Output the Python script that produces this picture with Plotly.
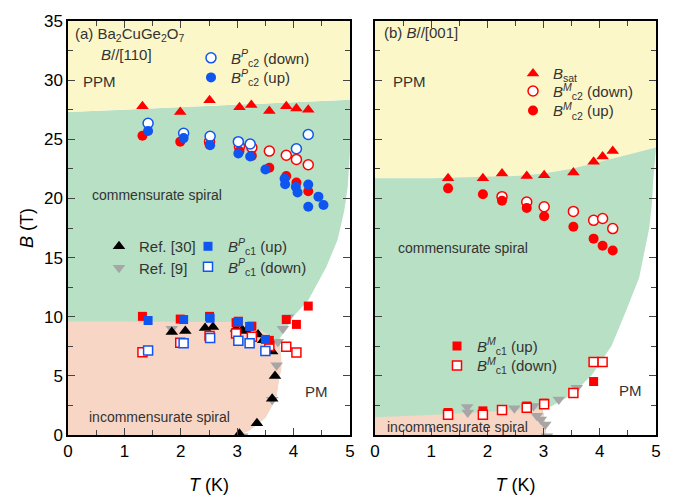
import plotly.graph_objects as go
from plotly.subplots import make_subplots

# ---------------- Panel (a): B // [110] ----------------
a_sat_T = [1.32, 1.99, 2.51, 3.04, 3.25, 3.57, 3.87, 4.05, 4.26]
a_sat_B = [27.8, 27.3, 28.3, 27.7, 27.9, 27.4, 27.8, 27.6, 27.5]

a_c2M_up_T = [1.32, 1.99, 2.51, 3.04, 3.26, 3.57, 3.87, 4.05, 4.26]
a_c2M_up_B = [25.3, 24.8, 24.55, 24.0, 23.6, 22.6, 21.9, 21.35, 20.6]
a_c2M_down_T = [2.51, 3.04, 3.26, 3.57, 3.87, 4.05, 4.26]
a_c2M_down_B = [24.8, 24.4, 24.3, 24.0, 23.65, 23.3, 22.85]

a_c2P_down_T = [1.42, 2.05, 2.52, 3.02, 3.23, 4.05, 4.26]
a_c2P_down_B = [26.35, 25.5, 25.25, 24.8, 24.6, 24.2, 25.4]
a_c2P_up_T = [1.42, 2.05, 2.52, 3.02, 3.23, 3.5, 3.84, 3.85, 4.04, 4.07, 4.26, 4.44, 4.26, 4.53]
a_c2P_up_B = [25.7, 25.1, 24.5, 23.8, 23.55, 22.45, 21.67, 21.2, 20.98, 20.5, 21.17, 20.15, 19.3, 19.45]

a_c1M_up_T = [1.32, 1.99, 2.51, 2.98, 3.02, 3.26, 3.57, 3.87, 4.05, 4.26]
a_c1M_up_B = [10.03, 9.8, 10.03, 9.5, 9.62, 9.2, 8.0, 9.76, 9.35, 10.9]
a_c1M_down_T = [1.32, 1.99, 2.51, 2.98, 3.26, 3.57, 3.87, 4.05]
a_c1M_down_B = [7.0, 7.8, 8.38, 8.58, 8.3, 7.53, 7.47, 6.97]

a_c1P_up_T = [1.42, 2.05, 2.52, 3.02, 3.22, 3.5]
a_c1P_up_B = [9.68, 9.76, 9.87, 9.57, 9.18, 8.08]
a_c1P_down_T = [1.42, 2.05, 2.52, 3.02, 3.22, 3.5]
a_c1P_down_B = [7.14, 7.75, 8.21, 7.97, 7.75, 7.11]

a_ref30_T = [1.84, 2.08, 2.43, 2.57, 2.98, 3.09, 3.16, 3.37, 3.46, 3.62, 3.67, 3.62, 3.35, 3.04]
a_ref30_B = [8.71, 8.8, 9.04, 9.12, 8.99, 8.9, 8.8, 8.49, 8.0, 7.06, 4.99, 3.06, 0.99, 0.1]
a_ref9_T = [1.84, 3.72, 3.81, 3.9, 3.7, 3.62, 3.09]
a_ref9_B = [8.99, 7.88, 8.99, 9.95, 5.9, 2.98, -0.1]

# phase boundaries (a)
a_top_T = [0, 1, 2, 3, 4, 5]
a_top_B = [27.3, 27.5, 27.7, 27.9, 28.1, 28.35]
a_right_T = [5.0, 5.0, 4.96, 4.9, 4.78, 4.58, 4.26, 3.99, 3.75]
a_right_B = [28.35, 24.0, 21.0, 19.0, 16.5, 14.2, 11.4, 10.0, 8.1]
a_inc_T = [0, 1, 2, 2.6, 2.9, 3.2, 3.45, 3.65, 3.75, 3.78, 3.78, 3.75, 3.69, 3.5, 3.22, 3.04]
a_inc_B = [9.6, 9.6, 9.6, 9.6, 9.55, 9.3, 8.8, 8.2, 7.5, 6.5, 5.5, 5.0, 3.1, 1.45, 0.4, 0.0]

# ---------------- Panel (b): B // [001] ----------------
b_sat_T = [1.3, 1.92, 2.26, 2.7, 3.01, 3.53, 3.89, 4.05, 4.23]
b_sat_B = [21.7, 21.7, 22.1, 21.9, 21.95, 22.2, 23.1, 23.55, 24.0]
b_c2_up_T = [1.3, 1.92, 2.26, 2.7, 3.01, 3.53, 3.89, 4.05, 4.23]
b_c2_up_B = [20.85, 20.35, 19.8, 19.2, 18.5, 17.6, 16.6, 16.0, 15.6]
b_c2_down_T = [2.26, 2.7, 3.01, 3.53, 3.89, 4.05, 4.23]
b_c2_down_B = [20.15, 19.7, 19.3, 18.9, 18.15, 18.3, 17.45]
b_c1_up_T = [1.3, 1.92, 2.7, 3.01, 3.89]
b_c1_up_B = [1.9, 2.04, 2.45, 2.7, 4.52]
b_c1_down_T = [1.3, 1.92, 2.26, 2.7, 3.01, 3.53, 3.89, 4.05]
b_c1_down_B = [1.71, 1.71, 2.12, 2.31, 2.59, 3.55, 6.17, 6.17]
b_ref9_T = [1.64, 1.65, 2.48, 2.82, 2.88, 2.95, 3.03, 3.06, 3.27, 3.59]
b_ref9_B = [2.37, 1.9, 2.26, 2.45, 1.63, 1.3, 0.88, -0.1, 3.0, 4.0]

# phase boundaries (b)
b_top_T = [0, 1, 2, 2.5, 3, 3.5, 4, 4.5, 5]
b_top_B = [21.7, 21.7, 21.8, 21.9, 22.1, 22.5, 23.1, 23.7, 24.3]
b_right_T = [5.0, 4.95, 4.93, 4.88, 4.7, 4.45, 4.21, 3.86, 3.5, 3.15, 2.98]
b_right_B = [24.3, 21.5, 19.7, 17.5, 13.3, 10.3, 7.55, 5.07, 3.4, 2.45, 2.15]
b_inc_T = [0, 1, 2, 2.5, 2.8, 2.95, 3.0, 3.03, 3.04]
b_inc_B = [1.5, 1.7, 1.95, 2.1, 2.25, 2.2, 1.8, 1.0, 0.0]

YELLOW = "#FCF7C9"
GREEN = "#B8E0C4"
PINK = "#F8D6C6"
RED = "#FF0000"
BLUE = "#0F55F0"
GREY = "#A6A6A6"
TXT = "#333333"
FONT = "Liberation Sans, Arial, sans-serif"

fig = make_subplots(rows=1, cols=2, horizontal_spacing=0.0425)


def region(xs, ys, color, col):
    fig.add_trace(go.Scatter(x=xs, y=ys, mode="lines", fill="toself", fillcolor=color,
                             line=dict(width=0, color=color), hoverinfo="skip",
                             showlegend=False), row=1, col=col)


def pxX(p):
    return (p - 68) / 588.0


def pxY(p):
    return (438 - p) / 424.0


legend_boxes = {}


def pts(xs, ys, col, symbol, color, filled, size, name=None, at=None):
    lname = None
    if name is not None:
        lname = "legend" if not legend_boxes else "legend%d" % (len(legend_boxes) + 1)
        legend_boxes[lname] = at
    fig.add_trace(go.Scatter(
        x=xs, y=ys, mode="markers", name=name if name else "",
        showlegend=name is not None, legend=lname, hoverinfo="x+y",
        marker=dict(symbol=symbol, size=size,
                    color=color if filled else "white",
                    line=dict(color=color, width=1.5 if not filled else 0))),
        row=1, col=col)


# --- regions panel (a)
region([0] + a_top_T + a_right_T + a_inc_T[9:] + [0],
       [0] + a_top_B + a_right_B + a_inc_B[9:] + [0], GREEN, 1)
region([0] + a_inc_T, [0] + a_inc_B, PINK, 1)
region(a_top_T + [5, 0], a_top_B + [35, 35], YELLOW, 1)

# --- regions panel (b)
region(b_top_T + [5, 0], b_top_B + [35, 35], YELLOW, 2)
region([0] + b_top_T + b_right_T + b_inc_T[6:] + [0],
       [0] + b_top_B + b_right_B + b_inc_B[6:] + [0], GREEN, 2)
region([0] + b_inc_T, [0] + b_inc_B, PINK, 2)

# --- markers panel (a)
pts(a_ref9_T, a_ref9_B, 1, "triangle-down", GREY, True, 11, "Ref. [9]", (119, 267))
pts(a_ref30_T, a_ref30_B, 1, "triangle-up", "black", True, 11, "Ref. [30]", (119, 245))
pts(a_sat_T, a_sat_B, 1, "triangle-up", RED, True, 11)
pts(a_c2M_down_T, a_c2M_down_B, 1, "circle", RED, False, 10)
pts(a_c2M_up_T, a_c2M_up_B, 1, "circle", RED, True, 10)
pts(a_c2P_down_T, a_c2P_down_B, 1, "circle", BLUE, False, 10,
    "<i>B</i><sup><i>P</i></sup><sub>c2</sub> (down)", (211, 52))
pts(a_c2P_up_T, a_c2P_up_B, 1, "circle", BLUE, True, 10,
    "<i>B</i><sup><i>P</i></sup><sub>c2</sub> (up)", (211, 72))
pts(a_c1M_down_T, a_c1M_down_B, 1, "square", RED, False, 9)
pts(a_c1M_up_T, a_c1M_up_B, 1, "square", RED, True, 9)
pts(a_c1P_up_T, a_c1P_up_B, 1, "square", BLUE, True, 9,
    "<i>B</i><sup><i>P</i></sup><sub>c1</sub> (up)", (208, 245))
pts(a_c1P_down_T, a_c1P_down_B, 1, "square", BLUE, False, 9,
    "<i>B</i><sup><i>P</i></sup><sub>c1</sub> (down)", (208, 266))

# --- markers panel (b)
pts(b_ref9_T, b_ref9_B, 2, "triangle-down", GREY, True, 11)
pts(b_sat_T, b_sat_B, 2, "triangle-up", RED, True, 11, "<i>B</i><sub>sat</sub>", (533, 68))
pts(b_c2_down_T, b_c2_down_B, 2, "circle", RED, False, 10,
    "<i>B</i><sup><i>M</i></sup><sub>c2</sub> (down)", (533, 86))
pts(b_c2_up_T, b_c2_up_B, 2, "circle", RED, True, 10,
    "<i>B</i><sup><i>M</i></sup><sub>c2</sub> (up)", (533, 106))
pts(b_c1_up_T, b_c1_up_B, 2, "square", RED, True, 9,
    "<i>B</i><sup><i>M</i></sup><sub>c1</sub> (up)", (457, 347))
pts(b_c1_down_T, b_c1_down_B, 2, "square", RED, False, 9,
    "<i>B</i><sup><i>M</i></sup><sub>c1</sub> (down)", (457, 367))

axis_common = dict(range=[0, 5], dtick=1, tick0=0, ticks="inside", ticklen=7, tickwidth=1.2,
                   showline=True, linecolor="black", linewidth=1.5, mirror="ticks",
                   showgrid=False, zeroline=False, tickfont=dict(size=17, color="black"),
                   minor=dict(dtick=0.5, ticks="inside", ticklen=5, tickwidth=1.2),
                   title=dict(text="<i>T</i> (K)", font=dict(size=18, color="black"), standoff=18))
yaxis_common = dict(range=[0, 35], dtick=5, tick0=0, ticks="inside", ticklen=7, tickwidth=1.2,
                    showline=True, linecolor="black", linewidth=1.5, mirror="ticks",
                    showgrid=False, zeroline=False, tickfont=dict(size=17, color="black"),
                    minor=dict(dtick=2.5, ticks="inside", ticklen=5, tickwidth=1.2))

fig.update_xaxes(**axis_common)
fig.update_yaxes(**yaxis_common)
fig.update_yaxes(title=dict(text="<i>B</i> (T)", font=dict(size=18, color="black"), standoff=6),
                 row=1, col=1)
fig.update_yaxes(showticklabels=False, row=1, col=2)

legend_layout = {}
for lname, (mx, my) in legend_boxes.items():
    legend_layout[lname] = dict(font=dict(size=15, color=TXT, family=FONT),
                                bgcolor="rgba(0,0,0,0)", xanchor="left", yanchor="middle",
                                itemwidth=30, x=pxX(mx - 20), y=pxY(my))
fig.update_layout(**legend_layout)

ann = []


def label(text, x, y, xref, yref, size=15, xanchor="center"):
    ann.append(dict(text=text, x=x, y=y, xref=xref, yref=yref, showarrow=False,
                    xanchor=xanchor, yanchor="middle", font=dict(size=size, color=TXT, family=FONT)))


label("(a) Ba<sub>2</sub>CuGe<sub>2</sub>O<sub>7</sub>", 0.08, 33.9, "x", "y", xanchor="left")
label("<i>B</i>//[110]", 0.55, 32.2, "x", "y", xanchor="left")
label("PPM", 0.55, 29.9, "x", "y")
label("commensurate spiral", 1.58, 20.25, "x", "y", size=14)
label("incommensurate spiral", 1.62, 1.5, "x", "y", size=14)
label("PM", 4.4, 3.7, "x", "y")
label("(b) <i>B</i>//[001]", 0.12, 34.0, "x2", "y2", xanchor="left")
label("PPM", 0.62, 29.9, "x2", "y2")
label("commensurate spiral", 1.56, 15.8, "x2", "y2", size=14)
label("incommensurate spiral", 1.46, 0.7, "x2", "y2", size=14)
label("PM", 4.55, 3.75, "x2", "y2")

fig.update_layout(
    width=689, height=504, autosize=False,
    margin=dict(l=68, r=33, t=14, b=66),
    plot_bgcolor="white", paper_bgcolor="white",
    font=dict(family=FONT, color="black"),
    annotations=ann,
)
fig.update_xaxes(domain=[0, 282 / 588.0], row=1, col=1)
fig.update_xaxes(domain=[307 / 588.0, 1.0], row=1, col=2)

fig.write_html("out.html")
